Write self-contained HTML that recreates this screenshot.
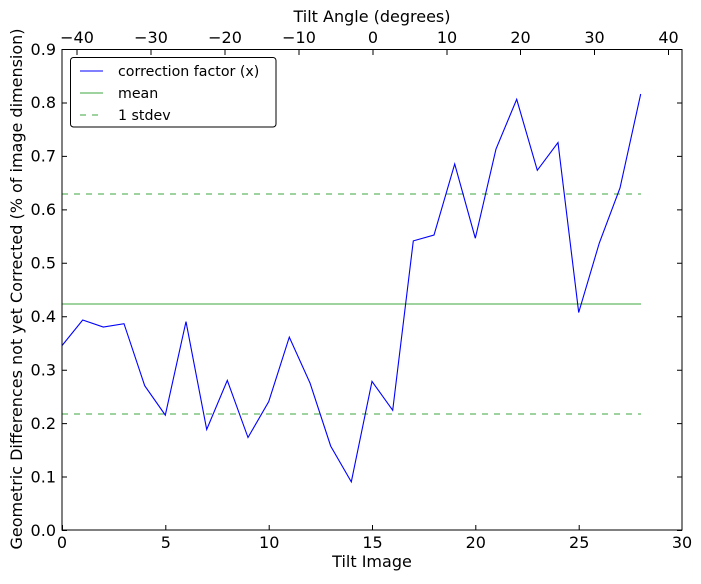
<!DOCTYPE html>
<html><head><style>body{margin:0;background:#fff}svg text{font-family:"DejaVu Sans","Liberation Sans",sans-serif;fill:#000}</style></head>
<body>
<svg width="701" height="579" xmlns="http://www.w3.org/2000/svg">
<rect width="701" height="579" fill="#fff"/>
<g stroke="#000" stroke-width="1">
<path d="M62.5 530v-5M165.8 530v-5M269.2 530v-5M372.5 530v-5M475.8 530v-5M579.2 530v-5M682 530v-5"/>
<path d="M62 530.5h5M62 477h5M62 423.6h5M62 370.2h5M62 316.7h5M62 263.3h5M62 209.9h5M62 156.4h5M62 103h5M62 49.5h5"/>
<path d="M682 530.5h-5M682 477h-5M682 423.6h-5M682 370.2h-5M682 316.7h-5M682 263.3h-5M682 209.9h-5M682 156.4h-5M682 103h-5M682 49.5h-5"/>
<path d="M77 50v5M151 50v5M225 50v5M299 50v5M373 50v5M447 50v5M520.5 50v5M594.5 50v5M668.5 50v5"/>
</g>
<g fill="none">
<line x1="62" y1="304" x2="641" y2="304" stroke="#3ca53c" stroke-width="1"/>
<line x1="62" y1="194" x2="641" y2="194" stroke="#3ca53c" stroke-width="1" stroke-dasharray="6,6"/>
<line x1="62" y1="414" x2="641" y2="414" stroke="#3ca53c" stroke-width="1" stroke-dasharray="6,6"/>
<polyline stroke="#0000ff" stroke-width="1.1" points="62,345.6 82.7,320 103.3,327 124,323.7 144.7,385.7 165.3,415.1 186,321.6 206.7,429.5 227.3,380.4 248,437.5 268.7,401.7 289.3,337.1 310,383 330.7,446.1 351.3,481.9 372,381.4 392.7,410.3 413.3,240.9 434,235 454.7,164 475.3,238.2 496,149 516.7,99.3 537.3,170.3 558,142.6 578.7,312.5 599.3,243 620,188 640.7,94"/>
</g>
<rect x="62" y="49.5" width="620" height="480.5" fill="none" stroke="#000" stroke-width="1"/>
<rect x="70.5" y="57.5" width="205.5" height="69.5" rx="3" fill="#fff" stroke="#000" stroke-width="1"/>
<line x1="80" y1="71" x2="103" y2="71" stroke="#0000ff"/>
<line x1="80" y1="93" x2="103" y2="93" stroke="#3ca53c"/>
<line x1="80" y1="115" x2="103" y2="115" stroke="#3ca53c" stroke-dasharray="6,6"/>
<text x="118" y="76" font-size="14.2">correction factor (x)</text>
<text x="118" y="98" font-size="14.2">mean</text>
<text x="118" y="120" font-size="14.2">1 stdev</text>
<g font-size="16" text-anchor="middle">
<text x="62" y="548">0</text><text x="165.8" y="548">5</text><text x="269.2" y="548">10</text><text x="372.5" y="548">15</text><text x="475.8" y="548">20</text><text x="579.2" y="548">25</text><text x="682" y="548">30</text>
<text x="372" y="567">Tilt Image</text>
<text x="77" y="43">−40</text><text x="151" y="43">−30</text><text x="225" y="43">−20</text><text x="299" y="43">−10</text><text x="373" y="43">0</text><text x="447" y="43">10</text><text x="520.5" y="43">20</text><text x="594.5" y="43">30</text><text x="668.5" y="43">40</text>
<text x="372" y="22">Tilt Angle (degrees)</text>
</g>
<g font-size="16" text-anchor="end">
<text x="56" y="536">0.0</text><text x="56" y="482.5">0.1</text><text x="56" y="429">0.2</text><text x="56" y="375.5">0.3</text><text x="56" y="322">0.4</text><text x="56" y="268.5">0.5</text><text x="56" y="215">0.6</text><text x="56" y="161.5">0.7</text><text x="56" y="108">0.8</text><text x="56" y="55">0.9</text>
</g>
<text transform="translate(22,289) rotate(-90)" font-size="16" text-anchor="middle">Geometric Differences not yet Corrected (% of image dimension)</text>
</svg>
</body></html>
